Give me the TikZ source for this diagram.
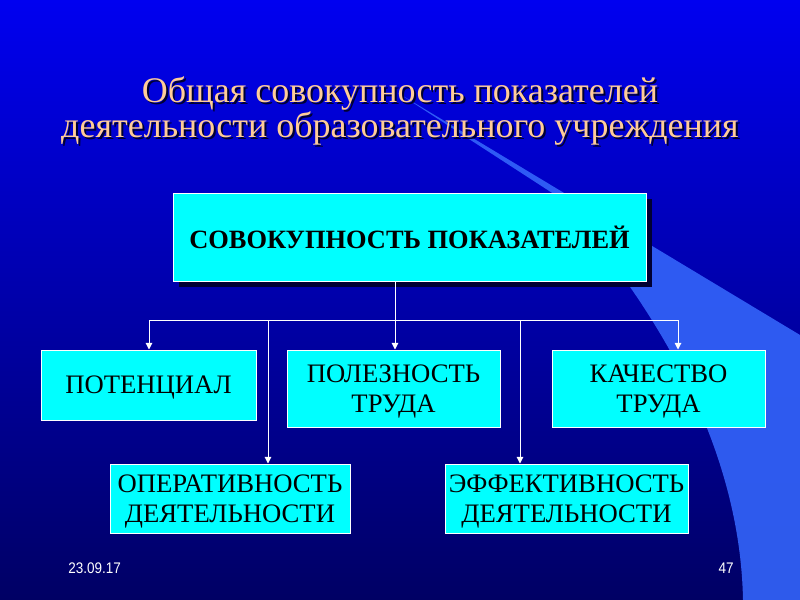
\documentclass[tikz,border=0pt]{standalone}
\usepackage{fontspec}
\setmainfont{Liberation Serif}
\newfontfamily\narrowsans{Liberation Sans}[FakeStretch=0.88]
\usetikzlibrary{arrows.meta, positioning, calc}
\definecolor{slidetop}{RGB}{0,0,240}
\definecolor{slidemid}{RGB}{0,0,150}
\definecolor{slidebot}{RGB}{0,0,100}
\definecolor{swoosh}{RGB}{52,100,250}
\definecolor{titletan}{RGB}{255,204,153}
\definecolor{boxcyan}{RGB}{0,255,255}
\definecolor{boxshadow}{RGB}{0,0,50}
\tikzset{
  box/.style={draw=white, line width=0.75pt, fill=boxcyan, text=black, align=center,
    font=\fontsize{20}{22.5}\selectfont, inner sep=0pt, text depth=0pt},
  mainbox/.style={box, font=\bfseries\fontsize{19.8}{22}\selectfont},
  link/.style={draw=white, line width=0.75pt},
  feed/.style={link, -{Triangle[width=5pt,length=5pt]}},
  titletext/.style={align=center, font=\fontsize{27}{25}\selectfont},
  footer/.style={text=white, font=\narrowsans\fontsize{11.5}{12}\selectfont, inner sep=0pt}
}

\begin{document}
\begin{tikzpicture}[x=0.75pt, y=-0.75pt]
    \useasboundingbox (0,0) rectangle (800,600);
    % background
    \shade[top color=slidetop, middle color=slidemid, bottom color=slidebot] (0,0) rectangle (800,600);
    \fill[swoosh, fill opacity=0.9] (398,93) -- (800,335) -- (800,600) -- (743,600)
        .. controls (740,440) and (650,300) .. (560,198) -- cycle;

    % title
    \node[titletext, text=boxshadow] (titleshadow) at (402,113)
        {Общая совокупность показателей\\деятельности образовательного учреждения};
    \node[titletext, text=titletan] (title) at (400,111)
        {Общая совокупность показателей\\деятельности образовательного учреждения};

    % boxes
    \fill[boxshadow] (179,199) rectangle (652,287);
    \node[mainbox, minimum width=354.75pt, minimum height=66pt] (total) at (409.5,237)
        {СОВОКУПНОСТЬ ПОКАЗАТЕЛЕЙ};
    \node[box, minimum width=161.25pt, minimum height=52.5pt] (potential) at (148.5,385) {ПОТЕНЦИАЛ};
    \node[box, minimum width=159.75pt, minimum height=57.75pt] (usefulness) at (393.5,388.5) {ПОЛЕЗНОСТЬ\\ТРУДА};
    \node[box, minimum width=159.75pt, minimum height=57.75pt] (quality) at (658.5,388.5) {КАЧЕСТВО\\ТРУДА};
    \node[box, minimum width=180pt, minimum height=51.75pt] (efficiency) at (230,498.5) {ОПЕРАТИВНОСТЬ\\ДЕЯТЕЛЬНОСТИ};
    \node[box, minimum width=182.25pt, minimum height=51.75pt] (effect) at (566.5,498.5) {ЭФФЕКТИВНОСТЬ\\ДЕЯТЕЛЬНОСТИ};

    % connectors
    \coordinate (bus1) at (149,320);
    \coordinate (bus2) at (268,320);
    \coordinate (bus3) at (395,320);
    \coordinate (bus4) at (520,320);
    \coordinate (bus5) at (678,320);
    \draw[link] (total.south -| bus3) -- (bus3);
    \draw[link] (bus1) -- (bus5);
    \draw[feed] (bus1) -- (bus1 |- potential.north);
    \draw[feed] (bus2) -- (bus2 |- efficiency.north);
    \draw[feed] (bus3) -- (bus3 |- usefulness.north);
    \draw[feed] (bus4) -- (bus4 |- effect.north);
    \draw[feed] (bus5) -- (bus5 |- quality.north);

    % footer
    \node[footer, anchor=base west] (date) at (68,573) {23.09.17};
    \node[footer, anchor=base east] (page) at (734,573) {47};
\end{tikzpicture}
\end{document}
